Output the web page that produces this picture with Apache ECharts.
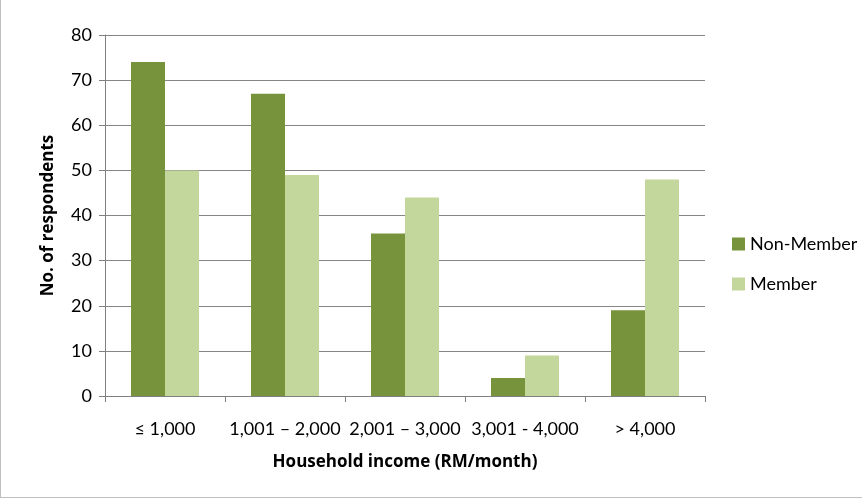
<!DOCTYPE html>
<html>
<head>
<meta charset="utf-8">
<script src="https://cdn.jsdelivr.net/npm/echarts@6/dist/echarts.min.js"></script>
<style>
  html, body { margin: 0; padding: 0; background: #fff; }
  #chart { width: 862px; height: 498px; border-left: 1px solid #bfbfbf; border-bottom: 1px solid #bfbfbf; box-sizing: border-box; }
</style>
</head>
<body>
<div id="chart"></div>
<script>
// categories and values
var categories = ['≤ 1,000', '1,001 – 2,000', '2,001 – 3,000', '3,001 - 4,000', '> 4,000'];
var nonMember = [74, 67, 36, 4, 19];
var member = [50, 49, 44, 9, 48];

var chart = echarts.init(document.getElementById('chart'));
var font = 'Lato, "Open Sans", sans-serif';
var titleFont = '"Open Sans", Lato, sans-serif';

var option = {
    animation: false,
    textStyle: { fontFamily: font },
    grid: { left: 104, right: 157, top: 35, bottom: 101 },
    legend: {
        orient: 'vertical',
        left: 726,
        top: 230,
        itemWidth: 13,
        itemHeight: 13,
        itemGap: 22,
        icon: 'rect',
        textStyle: { fontSize: 18, color: '#000', fontFamily: font },
        data: ['Non-Member', 'Member']
    },
    xAxis: {
        type: 'category',
        data: categories,
        name: 'Household income (RM/month)',
        nameLocation: 'middle',
        nameGap: 58,
        nameTextStyle: { fontSize: 17, fontWeight: 'bold', color: '#000', fontFamily: titleFont },
        axisLine: { lineStyle: { color: '#7f7f7f' } },
        axisTick: { show: true, length: 6, lineStyle: { color: '#7f7f7f' } },
        axisLabel: { fontSize: 18, color: '#000', margin: 24, interval: 0 }
    },
    yAxis: {
        type: 'value',
        min: 0,
        max: 80,
        interval: 10,
        name: 'No. of respondents',
        nameLocation: 'middle',
        nameGap: 48,
        nameTextStyle: { fontSize: 17, fontWeight: 'bold', color: '#000', fontFamily: titleFont },
        axisLine: { show: true, lineStyle: { color: '#7f7f7f' } },
        axisTick: { show: true, length: 6, lineStyle: { color: '#7f7f7f' } },
        axisLabel: { fontSize: 18, color: '#000', margin: 13 },
        splitLine: { lineStyle: { color: '#868686', width: 1.2 } }
    },
    series: [
        {
            name: 'Non-Member',
            type: 'bar',
            data: nonMember,
            barWidth: 34,
            barGap: '0%',
            itemStyle: { color: '#77933C' }
        },
        {
            name: 'Member',
            type: 'bar',
            data: member,
            barWidth: 34,
            barGap: '0%',
            itemStyle: { color: '#C3D69B' }
        }
    ]
};

chart.setOption(option);
</script>
</body>
</html>
